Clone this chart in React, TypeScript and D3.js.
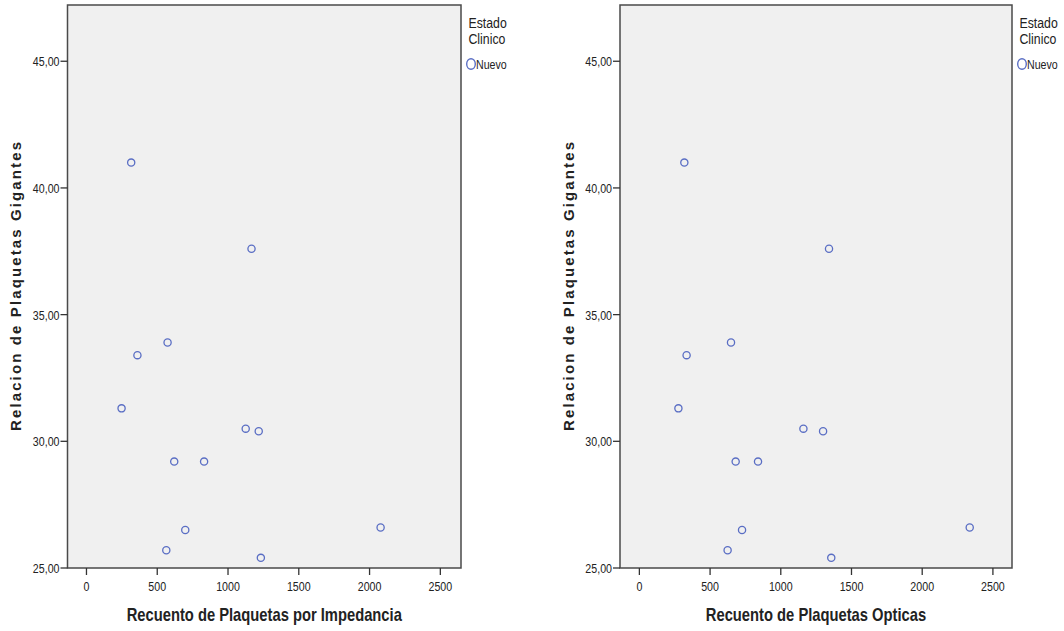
import React from "react";
import * as d3 from "d3";

const relacionGigantes = [41.0, 37.6, 33.9, 33.4, 31.3, 30.5, 30.4, 29.2, 29.2, 26.5, 25.7, 25.4, 26.6];
const recuentoImpedancia = [316, 1166, 573, 360, 248, 1125, 1217, 620, 831, 698, 564, 1232, 2078];
const recuentoOpticas = [318, 1341, 648, 334, 276, 1160, 1299, 681, 839, 726, 624, 1357, 2336];

const yTicks = [25, 30, 35, 40, 45];
const xTicks = [0, 500, 1000, 1500, 2000, 2500];
const yTitle = "Relacion de Plaquetas Gigantes";
const legendTitle = ["Estado", "Clinico"];
const legendItem = "Nuevo";

const panels = [
  { xTitle: "Recuento de Plaquetas por Impedancia", xs: recuentoImpedancia, xDomain: [-134, 2646], left: 67.5, right: 461, yTitleX: 20.5 },
  { xTitle: "Recuento de Plaquetas Opticas", xs: recuentoOpticas, xDomain: [-137, 2635], left: 620, right: 1012, yTitleX: 574 },
];

const TOP = 5;
const BOTTOM = 568;
const MARK = "#5a6ec4";
const TXT = "#222";
const FONT = "'Liberation Sans', Arial, sans-serif";
const NARROW = 0.82;

function fmt(v: number) {
  return v.toFixed(2).replace(".", ",");
}

function Panel({ p }: { p: typeof panels[number] }) {
  const x = d3.scaleLinear().domain(p.xDomain).range([p.left, p.right]);
  const y = d3.scaleLinear().domain([25, 47.22]).range([BOTTOM, TOP]);
  const cx = (p.left + p.right) / 2;
  const cy = (TOP + BOTTOM) / 2;
  return (
    <g>
      <rect x={p.left} y={TOP} width={p.right - p.left} height={BOTTOM - TOP} fill="#f0f0f0" stroke="#4a4a4a" strokeWidth={1.5} />
      {yTicks.map((t) => (
        <g key={"y" + t}>
          <line x1={p.left - 7} x2={p.left} y1={y(t)} y2={y(t)} stroke="#333" strokeWidth={1.3} />
          <g transform={`translate(${p.left - 8},${y(t) + 5}) scale(${NARROW},1)`}>
            <text textAnchor="end" fontFamily={FONT} fontSize={13} fill={TXT}>{fmt(t)}</text>
          </g>
        </g>
      ))}
      {xTicks.map((t) => (
        <g key={"x" + t}>
          <line x1={x(t)} x2={x(t)} y1={BOTTOM} y2={BOTTOM + 7} stroke="#333" strokeWidth={1.3} />
          <g transform={`translate(${x(t)},${591}) scale(${NARROW},1)`}>
            <text textAnchor="middle" fontFamily={FONT} fontSize={13} fill={TXT}>{t}</text>
          </g>
        </g>
      ))}
      {p.xs.map((v, i) => (
        <circle key={i} cx={x(v)} cy={y(relacionGigantes[i])} r={3.6} fill="none" stroke={MARK} strokeWidth={1.3} />
      ))}
      <g transform={`translate(${cx},621) scale(${NARROW},1)`}>
        <text textAnchor="middle" fontFamily={FONT} fontWeight="bold" fontSize={18} fill={TXT}>{p.xTitle}</text>
      </g>
      <text
        transform={`translate(${p.yTitleX},${cy}) rotate(-90)`}
        textAnchor="middle"
        fontFamily={FONT}
        fontWeight="bold"
        fontSize={15}
        fill={TXT}
        textLength={289}
        lengthAdjust="spacing"
      >
        {yTitle}
      </text>
      {legendTitle.map((s, i) => (
        <g key={s} transform={`translate(${p.right + 7.5},${28 + i * 16}) scale(${NARROW},1)`}>
          <text fontFamily={FONT} fontSize={15} fill={TXT}>{s}</text>
        </g>
      ))}
      <ellipse cx={p.right + 10} cy={64} rx={4.3} ry={5.3} fill="none" stroke={MARK} strokeWidth={1.4} />
      <g transform={`translate(${p.right + 15},${69}) scale(${NARROW},1)`}>
        <text fontFamily={FONT} fontSize={13} fill={TXT}>{legendItem}</text>
      </g>
    </g>
  );
}

export default function App() {
  return (
    <svg width={1064} height={631} style={{ position: "absolute", left: 0, top: 0, background: "#fff" }}>
      <rect x={0} y={0} width={1064} height={631} fill="#fff" />
      {panels.map((p, i) => (
        <Panel key={i} p={p} />
      ))}
    </svg>
  );
}
